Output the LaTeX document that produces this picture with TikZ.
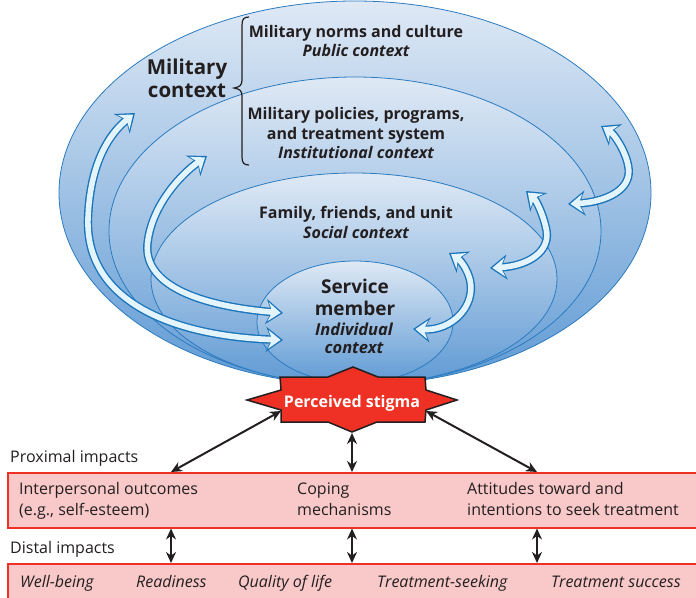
\documentclass[tikz,border=0pt]{standalone}
\usepackage{fontspec}
\setmainfont{Open Sans}
\usetikzlibrary{arrows.meta}

\definecolor{ringline}{HTML}{2B7BC0}
\definecolor{ringtop}{HTML}{DFE9F5}
\definecolor{ringbot}{HTML}{5F9AD4}
\definecolor{arrowline}{HTML}{1B75BB}
\definecolor{arrowfill}{HTML}{E4F4FC}
\definecolor{stigmared}{HTML}{EE3124}
\definecolor{boxfill}{HTML}{F9C8C8}
\definecolor{inktext}{HTML}{231F20}

% two passes: blue outline, then pale core
\newcommand\influence[1]{\draw[fatbody] #1; \draw[fatcore] #1;}

\begin{document}
\begin{tikzpicture}[x=1pt,y=-1pt,
    outertip/.tip={Stealth[length=17pt, width=25pt, inset=5.5pt]},
    innertip/.tip={Stealth[length=12.3pt, width=18.5pt, inset=4pt]},
    inktip/.tip={Stealth[length=11pt, width=10pt]},
    ring/.style={draw=ringline, line width=0.8pt, top color=ringtop, bottom color=ringbot},
    fatbody/.style={draw=arrowline, line width=8.4pt, outertip-outertip},
    fatcore/.style={draw=arrowfill, line width=5.6pt, shorten >=2.4pt, shorten <=2.4pt, innertip-innertip},
    inkarrow/.style={draw=inktext, line width=2pt, inktip-inktip},
    impactbox/.style={draw=stigmared, line width=1.5pt, fill=boxfill, inner sep=0pt, anchor=north west},
    ctxtext/.style={text=inktext, font=\bfseries\fontsize{16}{19.8}\selectfont, align=center, anchor=base, inner sep=0pt},
    ctxitalic/.style={ctxtext, font=\bfseries\itshape\fontsize{16}{19.8}\selectfont},
    impacttext/.style={text=inktext, font=\fontsize{16}{20.5}\selectfont, align=left, anchor=base west, inner sep=0pt},
    outcometext/.style={impacttext, font=\itshape\fontsize{16}{20.5}\selectfont}]
\useasboundingbox (0,0) rectangle (696,597);

% nested contexts
\draw[ring] (355,193) ellipse [x radius=296, y radius=192];
\draw[ring] (355,231) ellipse [x radius=246, y radius=154];
\draw[ring] (354,279) ellipse [x radius=203, y radius=106];
\draw[ring] (355,322) ellipse [x radius=98, y radius=61];

% brace
\draw[inktext, line width=1.2pt] (249,17) .. controls (244,17) and (242,19) .. (242,25)
    -- (242,80) .. controls (242,85) and (240,87) .. (234,88)
    .. controls (240,89) and (242,91) .. (242,96) -- (242,157)
    .. controls (242,163) and (244,165) .. (249,165);

% (base of a two-line node = last line)
\node[ctxtext, font=\bfseries\fontsize{20.5}{23}\selectfont] (milctx) at (187,97) {Military\\context};
\node[ctxtext] (norms) at (356,37) {Military norms and culture};
\node[ctxitalic] (public) at (356,56.5) {Public context};
\node[ctxtext] (policies) at (356,139) {Military policies, programs,\\and treatment system};
\node[ctxitalic] (institutional) at (356,158.5) {Institutional context};
\node[ctxtext] (family) at (356,218) {Family, friends, and unit};
\node[ctxitalic] (social) at (356,238.5) {Social context};
\node[ctxtext, font=\bfseries\fontsize{19}{22}\selectfont] (member) at (355,315) {Service\\member};
\node[ctxitalic, font=\bfseries\itshape\fontsize{16.5}{18.5}\selectfont] (individual) at (354,353.5) {Individual\\context};

% influences between levels
\influence{(283,340) .. controls (170,336) and (85,300) .. (88,218)
    .. controls (90,165) and (108,135) .. (135,113)}
\influence{(283,313) .. controls (200,306) and (140,285) .. (148,240)
    .. controls (153,205) and (180,175) .. (207,156)}
\influence{(413,329) .. controls (452,331) and (476,306) .. (470,280)
    .. controls (467,268) and (460,260) .. (449,253)}
\influence{(490,268) .. controls (527,266) and (552,252) .. (546,228)
    .. controls (543,214) and (536,200) .. (526,191)}
\influence{(568,204) .. controls (605,202) and (634,190) .. (628,165)
    .. controls (625,150) and (614,134) .. (601,126)}

% perceived stigma
\draw[fill=stigmared, draw=inktext, line width=1.5pt, line join=miter]
    (353,367) -- (378,377) -- (425,377) -- (426,390) -- (457,400) -- (426,410)
    -- (425,422) -- (377,422) -- (352,432) -- (328,422) -- (281,422)
    -- (281,410) -- (247,400) -- (281,390) -- (280,377) -- (328,377) -- cycle;
\node[text=white, font=\bfseries\fontsize{16}{19}\selectfont, anchor=base, inner sep=0pt] (stigma) at (352,407) {Perceived stigma};
\coordinate (stigmaSW) at (281,411);
\coordinate (stigmaSE) at (426,411);
\coordinate (stigmaS) at (352,433);

% impacts
\node[impacttext] (proxlabel) at (10,462) {Proximal impacts};
\node[impactbox, minimum width=695pt, minimum height=55pt] (prox) at (7,472) {};
\node[impacttext] (interp) at (19,515) {Interpersonal outcomes\\(e.g., self-esteem)};
\node[impacttext] (coping) at (297,515) {Coping\\mechanisms};
\node[impacttext] (attitudes) at (467,515) {Attitudes toward and\\intentions to seek treatment};

\node[impacttext] (distlabel) at (10,553) {Distal impacts};
\node[impactbox, minimum width=695pt, minimum height=45pt] (dist) at (7,563) {};
\node[outcometext] (wellbeing) at (20,587) {Well-being};
\node[outcometext] (readiness) at (136,587) {Readiness};
\node[outcometext] (quality) at (238,587) {Quality of life};
\node[outcometext] (seeking) at (377,587) {Treatment-seeking};
\node[outcometext] (success) at (551,587) {Treatment success};

\coordinate (colA) at (171,0);
\coordinate (colB) at (352,0);
\coordinate (colC) at (537,0);
\draw[inkarrow] (stigmaSW) -- (prox.north -| colA);
\draw[inkarrow] (stigmaS) -- (prox.north -| colB);
\draw[inkarrow] (stigmaSE) -- (prox.north -| colC);
\foreach \col in {colA,colB,colC}
    \draw[inkarrow] (prox.south -| \col) -- (dist.north -| \col);
\end{tikzpicture}
\end{document}
